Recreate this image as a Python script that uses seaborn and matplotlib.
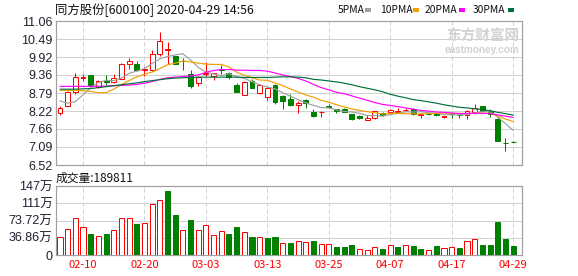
import matplotlib
matplotlib.use("Agg")
import matplotlib.pyplot as plt
from matplotlib.patches import Rectangle
import numpy as np
import pandas as pd
import seaborn as sns

# ---------------- data ----------------
date_ticks = [3, 11, 19, 27, 35, 43, 51, 59]
date_labels = ["02-10", "02-20", "03-03", "03-13", "03-25", "04-07", "04-17", "04-29"]

opens = [8.15, 8.39, 8.83, 9.25, 9.35, 8.98, 9.17, 9.15, 9.24, 9.71,
         9.72, 9.51, 9.52, 10.02, 10.14, 9.95, 9.80, 9.38, 9.12, 9.40,
         9.32, 9.56, 9.43, 9.03, 8.74, 9.17, 8.80, 8.65, 9.03, 8.70,
         8.60, 8.40, 8.56, 8.20, 8.18, 8.39, 8.27, 8.29, 8.13, 8.06,
         7.95, 7.99, 8.15, 8.20, 8.19, 8.25, 8.30, 8.10, 8.13, 8.15,
         8.03, 8.13, 8.11, 8.09, 8.18, 8.39, 8.23, 7.97, 7.21, 7.25]
highs = [8.39, 8.86, 9.43, 9.40, 9.36, 9.21, 9.35, 9.40, 9.74, 9.89,
         9.81, 9.62, 10.16, 10.70, 10.40, 9.97, 9.88, 9.50, 9.32, 9.77,
         9.43, 9.67, 9.45, 9.10, 9.16, 9.22, 9.08, 8.99, 9.06, 8.72,
         8.75, 8.54, 8.59, 8.28, 8.21, 8.44, 8.29, 8.31, 8.13, 8.10,
         8.10, 8.23, 8.19, 8.28, 8.33, 8.33, 8.31, 8.15, 8.15, 8.15,
         8.06, 8.15, 8.13, 8.25, 8.44, 8.39, 8.27, 8.02, 7.38, 7.29]
lows = [8.10, 8.37, 8.75, 9.17, 9.02, 8.96, 9.03, 9.12, 9.22, 9.55,
        9.49, 9.34, 9.48, 9.95, 9.69, 9.71, 9.51, 8.94, 9.01, 9.32,
        9.19, 9.38, 9.22, 8.82, 8.73, 8.94, 8.75, 8.56, 8.44, 8.28,
        8.39, 8.17, 8.33, 8.04, 8.04, 8.31, 8.17, 8.18, 7.94, 7.98,
        7.95, 7.97, 8.06, 8.17, 8.19, 8.21, 8.11, 8.00, 8.10, 8.08,
        8.00, 8.01, 7.99, 7.98, 8.13, 8.23, 8.02, 7.27, 6.95, 7.23]
closes = [8.33, 8.82, 9.30, 9.30, 9.03, 9.17, 9.15, 9.25, 9.69, 9.80,
          9.51, 9.56, 10.02, 10.44, 10.19, 9.72, 9.79, 9.01, 9.30, 9.43,
          9.43, 9.53, 9.30, 8.82, 9.15, 8.96, 9.04, 8.94, 8.51, 8.54,
          8.42, 8.47, 8.48, 8.07, 8.20, 8.36, 8.21, 8.19, 7.98, 8.00,
          8.01, 8.21, 8.09, 8.25, 8.21, 8.26, 8.13, 8.13, 8.12, 8.09,
          8.06, 8.12, 8.10, 8.21, 8.32, 8.23, 8.13, 7.27, 7.20, 7.23]

ma5 = [8.54, 8.47, 8.52, 8.73, 8.96, 9.12, 9.19, 9.18, 9.26, 9.41,
       9.48, 9.56, 9.72, 9.87, 9.94, 9.99, 10.03, 9.83, 9.60, 9.45,
       9.39, 9.34, 9.40, 9.30, 9.25, 9.15, 9.05, 8.98, 8.92, 8.80,
       8.69, 8.58, 8.48, 8.40, 8.33, 8.32, 8.26, 8.21, 8.19, 8.15,
       8.08, 8.08, 8.06, 8.11, 8.15, 8.20, 8.19, 8.20, 8.17, 8.15,
       8.11, 8.10, 8.10, 8.12, 8.16, 8.20, 8.20, 8.03, 7.83, 7.61]
ma10 = [8.87, 8.87, 8.87, 8.86, 8.84, 8.80, 8.80, 8.91, 9.06, 9.18,
        9.30, 9.38, 9.45, 9.56, 9.68, 9.73, 9.80, 9.77, 9.73, 9.70,
        9.69, 9.69, 9.61, 9.45, 9.35, 9.27, 9.20, 9.19, 9.11, 9.02,
        8.92, 8.82, 8.73, 8.66, 8.56, 8.50, 8.42, 8.35, 8.29, 8.24,
        8.20, 8.17, 8.13, 8.15, 8.15, 8.14, 8.13, 8.13, 8.14, 8.15,
        8.16, 8.15, 8.15, 8.14, 8.15, 8.15, 8.15, 8.07, 7.97, 7.89]
ma20 = [9.00, 9.00, 9.00, 9.00, 9.00, 9.00, 9.01, 9.02, 9.03, 9.04,
        9.06, 9.10, 9.15, 9.22, 9.27, 9.29, 9.31, 9.33, 9.36, 9.44,
        9.50, 9.53, 9.53, 9.51, 9.51, 9.50, 9.50, 9.48, 9.42, 9.36,
        9.31, 9.25, 9.17, 9.06, 8.96, 8.89, 8.81, 8.77, 8.70, 8.63,
        8.56, 8.49, 8.43, 8.40, 8.36, 8.32, 8.28, 8.24, 8.22, 8.19,
        8.18, 8.16, 8.14, 8.15, 8.15, 8.15, 8.14, 8.10, 8.06, 8.02]
ma30 = [8.91, 8.91, 8.91, 8.92, 8.93, 8.96, 8.99, 9.02, 9.05, 9.08,
        9.11, 9.15, 9.18, 9.21, 9.24, 9.26, 9.27, 9.28, 9.29, 9.29,
        9.29, 9.29, 9.29, 9.29, 9.28, 9.28, 9.28, 9.28, 9.29, 9.30,
        9.30, 9.29, 9.27, 9.22, 9.20, 9.17, 9.14, 9.10, 9.05, 8.99,
        8.94, 8.89, 8.83, 8.75, 8.69, 8.64, 8.58, 8.55, 8.51, 8.47,
        8.42, 8.38, 8.34, 8.32, 8.29, 8.27, 8.23, 8.18, 8.14, 8.09]

volumes = [37.6, 54.6, 78.0, 58.8, 44.7, 39.7, 44.7, 52.5, 80.1, 78.0,
           65.9, 68.1, 109.9, 118.4, 136.1, 85.1, 52.5, 74.4, 52.5, 63.1,
           41.8, 50.3, 44.7, 58.8, 48.2, 38.3, 37.6, 36.2, 38.3, 24.8,
           25.5, 29.8, 27.6, 30.5, 23.4, 23.4, 17.0, 17.0, 21.3, 12.8,
           10.6, 17.0, 12.8, 21.3, 17.0, 20.6, 19.1, 12.8, 10.6, 19.1,
           14.9, 17.0, 14.9, 29.8, 33.3, 21.3, 21.3, 70.9, 34.7, 19.1]
vol_up = [1, 1, 1, 1, 0, 1, 0, 1, 1, 1,
          0, 1, 1, 1, 0, 0, 1, 0, 1, 1,
          1, 1, 0, 0, 1, 0, 1, 0, 0, 1,
          0, 1, 1, 0, 1, 1, 0, 0, 0, 1,
          1, 1, 0, 1, 0, 1, 0, 0, 1, 0,
          1, 1, 0, 1, 1, 0, 0, 0, 0, 0]

price_ticks = [6.52, 7.09, 7.66, 8.22, 8.79, 9.36, 9.92, 10.49, 11.06]
price_labels = ["6.52", "7.09", "7.66", "8.22", "8.79", "9.36", "9.92", "10.49", "11.06"]
vol_ticks = [0, 36.86, 73.72, 110.58, 147.44]
vol_labels = ["0", "36.86万", "73.72万", "111万", "147万"]

title = "同方股份[600100] 2020-04-29 14:56"
vol_title = "成交量:189811"
ma_names = ["5PMA", "10PMA", "20PMA", "30PMA"]

# ---------------- style ----------------
sns.set_style("white")
plt.rcParams["font.family"] = ["Liberation Sans", "Noto Sans CJK SC", "DejaVu Sans"]

RED = "#ff0000"
GREEN = "#008000"
MA_COLORS = ["#a0a0a0", "#f0a000", "#ff00ff", "#00703a"]
FRAME = "#a0a0a0"
GRID = "#d0d0d0"
LABEL = "#202030"
PX = 0.72  # 1 pixel in points

W, H = 578, 276
fig = plt.figure(figsize=(W / 100, H / 100), dpi=100)
fig.patch.set_facecolor("white")

def fx(px):
    return px / W

def fy(py):
    return 1 - py / H

ax = fig.add_axes([fx(56), fy(165), fx(466), 144 / H])
axv = fig.add_axes([fx(56), fy(255), fx(466), 69 / H])

df = pd.DataFrame({"i": np.arange(len(closes)), "open": opens, "high": highs,
                   "low": lows, "close": closes, "ma5": ma5, "ma10": ma10,
                   "ma20": ma20, "ma30": ma30, "vol": volumes, "vup": vol_up})
up = df["close"] >= df["open"]

BW = 0.64
# wicks
ax.vlines(df["i"][up], df["low"][up], df["high"][up], color=RED, lw=PX, zorder=2)
ax.vlines(df["i"][~up], df["low"][~up], df["high"][~up], color=GREEN, lw=PX, zorder=2)
# bodies
body_lo = np.minimum(df["open"], df["close"])
body_h = np.maximum(np.abs(df["close"] - df["open"]), 0.012)
ax.bar(df["i"][up], body_h[up], bottom=body_lo[up], width=BW,
       facecolor="white", edgecolor=RED, linewidth=PX, zorder=3)
ax.bar(df["i"][~up], body_h[~up], bottom=body_lo[~up], width=BW,
       facecolor=GREEN, edgecolor=GREEN, linewidth=PX, zorder=3)

# moving averages
for col, c in zip(["ma5", "ma10", "ma20", "ma30"], MA_COLORS):
    sns.lineplot(data=df, x="i", y=col, ax=ax, color=c, linewidth=0.85, zorder=4)

# volume bars
vu = df["vup"] == 1
axv.bar(df["i"][vu], df["vol"][vu], width=0.66, facecolor="white",
        edgecolor=RED, linewidth=PX, zorder=3)
axv.bar(df["i"][~vu], df["vol"][~vu], width=0.66, facecolor=GREEN,
        edgecolor=GREEN, linewidth=PX, zorder=3)

XL = (-0.52, 60.16)
for a in (ax, axv):
    a.set_xlim(*XL)
    a.set_xticks(date_ticks)
    a.set_xlabel("")
    a.set_ylabel("")
    a.grid(axis="y", color=GRID, linewidth=PX, linestyle="-", zorder=0)
    a.grid(axis="x", color=GRID, linewidth=PX, linestyle=(0, (4, 3)), zorder=0)
    a.set_axisbelow(True)
    for s in a.spines.values():
        s.set_color(FRAME)
        s.set_linewidth(PX * 1.2)
        s.set_visible(True)
    a.tick_params(length=0, pad=2.5, colors=LABEL)

ax.set_ylim(6.52, 11.06)
ax.set_yticks(price_ticks)
ax.set_yticklabels(price_labels, fontsize=9, color=LABEL)
ax.set_xticklabels([])

axv.set_ylim(0, 147.44)
axv.set_yticks(vol_ticks)
axv.set_yticklabels(vol_labels, fontsize=9, color=LABEL)
axv.set_xticklabels(date_labels, fontsize=8, color=RED,
                    family=["Noto Sans CJK SC", "DejaVu Sans"])
axv.tick_params(axis="x", pad=3.5)

# titles
cjk = ["Noto Sans CJK SC", "DejaVu Sans"]
fig.text(fx(55), fy(10), title, fontsize=8.9, family=cjk, color="#111111",
         ha="left", va="center")
fig.text(fx(56), fy(178), vol_title, fontsize=8.5, family=cjk, color="#111111",
         ha="left", va="center")

# legend
leg_x = [338, 380, 425, 473]
sq_x = [365, 413, 459, 508]
for name, lx, sx, c in zip(ma_names, leg_x, sq_x, MA_COLORS):
    fig.text(fx(lx), fy(10), name, fontsize=7.4, family=cjk, color="#111111",
             ha="left", va="center")
    fig.patches.append(Rectangle((fx(sx), fy(12)), fx(6), 4 / H, transform=fig.transFigure,
                                 facecolor=c, edgecolor="none"))

# watermark
ax.text(0.995, 0.955, "东方财富网", transform=ax.transAxes, fontsize=10.5,
        family=cjk, color="#d2d2d2", ha="right", va="top", fontweight="bold", zorder=1)
ax.text(0.995, 0.83, "eastmoney.com", transform=ax.transAxes, fontsize=7.2,
        color="#d2d2d2", ha="right", va="top", fontweight="bold", zorder=1)

fig.savefig("out.png", dpi=100, facecolor="white")
